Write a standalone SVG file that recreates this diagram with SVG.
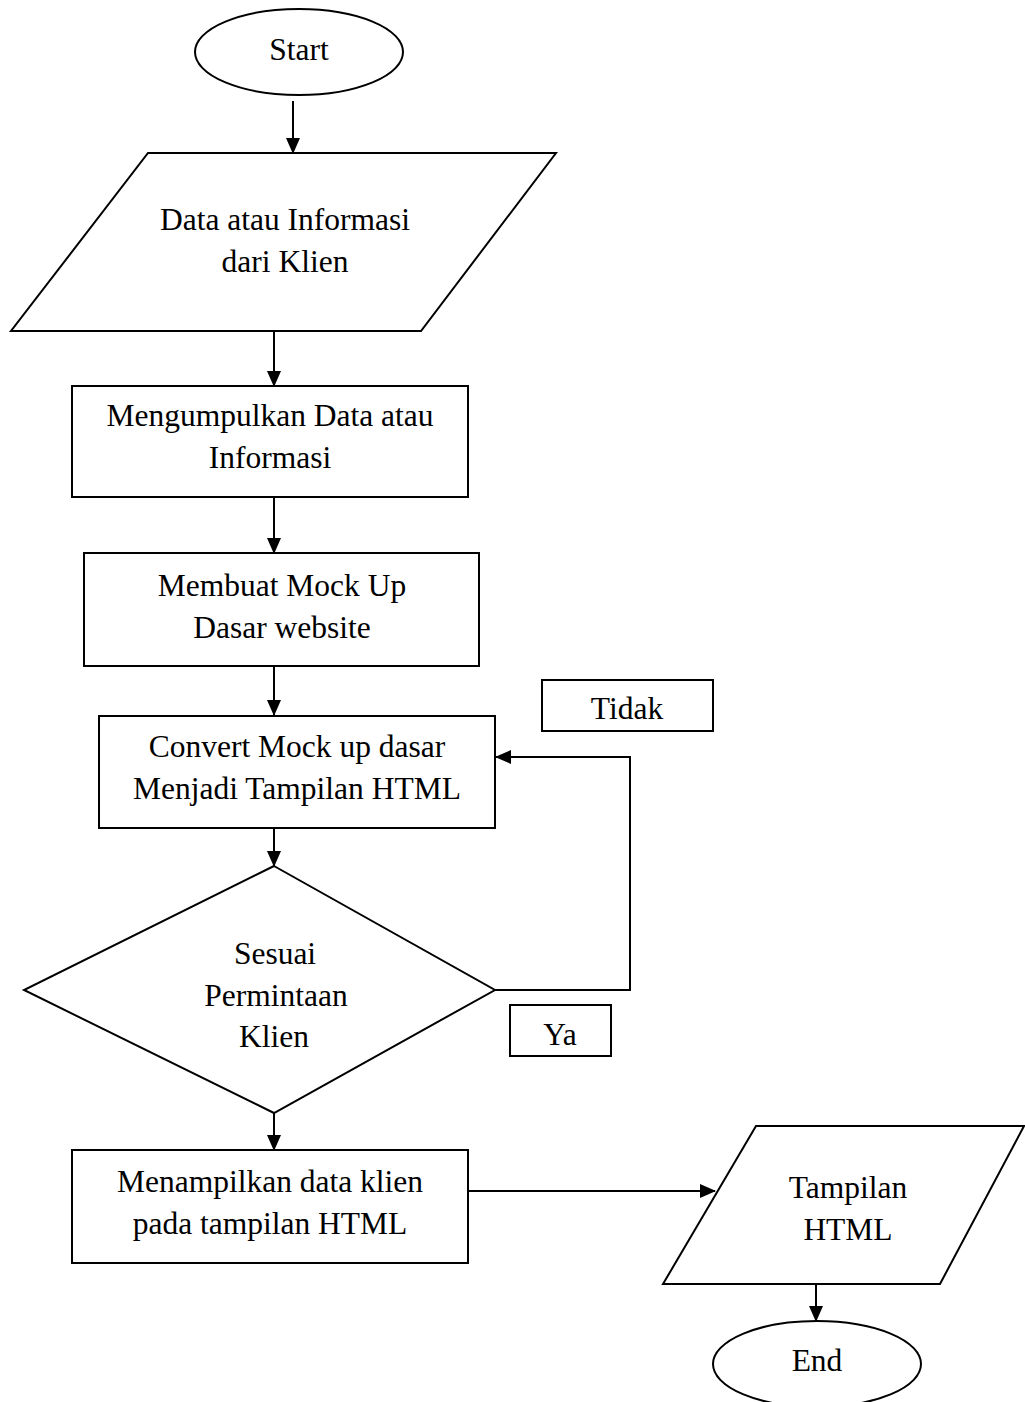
<svg xmlns="http://www.w3.org/2000/svg" width="1025" height="1402" viewBox="0 0 1025 1402">
<defs>
<marker id="arr" markerWidth="16" markerHeight="14" refX="15" refY="7" orient="auto" markerUnits="userSpaceOnUse">
<path d="M0,0 L16,7 L0,14 Z" fill="#000"/>
</marker>
<style>
.s{fill:#fff;stroke:#000;stroke-width:2}
.t{font-family:"Liberation Serif","Times New Roman",serif;font-size:31.5px;fill:#000;text-anchor:middle}
.c{fill:none;stroke:#000;stroke-width:2}
</style>
</defs>
<rect width="1025" height="1402" fill="#fff"/>
<g id="connectors">
<line class="c" x1="293" y1="101" x2="293" y2="153" marker-end="url(#arr)"/>
<line class="c" x1="274" y1="331" x2="274" y2="386" marker-end="url(#arr)"/>
<line class="c" x1="274" y1="497" x2="274" y2="553" marker-end="url(#arr)"/>
<line class="c" x1="274" y1="666" x2="274" y2="715" marker-end="url(#arr)"/>
<line class="c" x1="274" y1="828" x2="274" y2="866" marker-end="url(#arr)"/>
<polyline class="c" points="495,990 630,990 630,757 496,757" marker-end="url(#arr)"/>
<line class="c" x1="274" y1="1113" x2="274" y2="1150" marker-end="url(#arr)"/>
<line class="c" x1="468" y1="1191" x2="715" y2="1191" marker-end="url(#arr)"/>
<line class="c" x1="816" y1="1284" x2="816" y2="1321" marker-end="url(#arr)"/>
</g>
<g id="start">
<ellipse class="s" cx="299" cy="52" rx="104" ry="43"/>
<text class="t" x="299" y="60">Start</text>
</g>
<g id="input-data">
<polygon class="s" points="148,153 556,153 421,331 11,331"/>
<text class="t" x="285" y="230">Data atau Informasi</text>
<text class="t" x="285" y="272">dari Klien</text>
</g>
<g id="collect">
<rect class="s" x="72" y="386" width="396" height="111"/>
<text class="t" x="270" y="426">Mengumpulkan Data atau</text>
<text class="t" x="270" y="468">Informasi</text>
</g>
<g id="mockup">
<rect class="s" x="84" y="553" width="395" height="113"/>
<text class="t" x="282" y="596">Membuat Mock Up</text>
<text class="t" x="282" y="638">Dasar website</text>
</g>
<g id="convert">
<rect class="s" x="99" y="716" width="396" height="112"/>
<text class="t" x="297" y="757">Convert Mock up dasar</text>
<text class="t" x="297" y="799">Menjadi Tampilan HTML</text>
</g>
<g id="label-tidak">
<rect class="s" x="542" y="680" width="171" height="51"/>
<text class="t" x="627" y="719">Tidak</text>
</g>
<g id="decision">
<polygon class="s" points="274,866 495,990 274,1113 24,990"/>
<text class="t" x="275" y="964">Sesuai</text>
<text class="t" x="276" y="1006">Permintaan</text>
<text class="t" x="274" y="1047">Klien</text>
</g>
<g id="label-ya">
<rect class="s" x="510" y="1005" width="101" height="51"/>
<text class="t" x="560" y="1045">Ya</text>
</g>
<g id="display">
<rect class="s" x="72" y="1150" width="396" height="113"/>
<text class="t" x="270" y="1192">Menampilkan data klien</text>
<text class="t" x="270" y="1234">pada tampilan HTML</text>
</g>
<g id="output-html">
<polygon class="s" points="756,1126 1024,1126 940,1284 663,1284"/>
<text class="t" x="848" y="1198">Tampilan</text>
<text class="t" x="848" y="1240">HTML</text>
</g>
<g id="end">
<ellipse class="s" cx="817" cy="1364" rx="104" ry="43"/>
<text class="t" x="817" y="1371">End</text>
</g>
</svg>
